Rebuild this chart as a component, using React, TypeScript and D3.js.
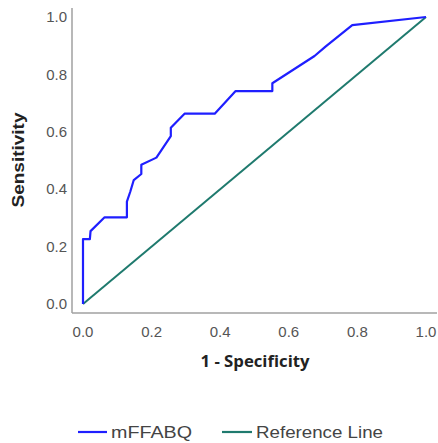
import React from 'react';
import * as d3 from 'd3';

// ROC curve points (1 - specificity, sensitivity)
const rocX = [0, 0, 0.02, 0.022, 0.063, 0.128, 0.128, 0.138, 0.148, 0.17, 0.17, 0.214, 0.256, 0.256, 0.296, 0.384, 0.445, 0.552, 0.552, 0.675, 0.707, 0.785, 1];
const rocY = [0, 0.226, 0.226, 0.254, 0.302, 0.302, 0.357, 0.392, 0.432, 0.453, 0.485, 0.51, 0.585, 0.614, 0.663, 0.663, 0.742, 0.742, 0.769, 0.864, 0.897, 0.972, 1];
const refX = [0, 1];
const refY = [0, 1];
const ticks = [0, 0.2, 0.4, 0.6, 0.8, 1.0];
const seriesNames = ['mFFABQ', 'Reference Line'];
const seriesColors = ['#1f1fff', '#1f7a6e'];

export default function App() {
  const width = 438, height = 443;
  const x = d3.scaleLinear().domain([0, 1]).range([83, 426]);
  const y = d3.scaleLinear().domain([0, 1]).range([304, 17]);

  const line = d3.line<[number, number]>()
    .x(d => x(d[0]))
    .y(d => y(d[1]));

  const roc = line(rocX.map((v, i) => [v, rocY[i]] as [number, number])) || '';
  const ref = line(refX.map((v, i) => [v, refY[i]] as [number, number])) || '';

  const tickFont = '"Liberation Sans", Arial, sans-serif';

  return (
    <svg width={width} height={height} style={{ position: 'absolute', left: 0, top: 0, background: '#fff' }}>
      {/* axes */}
      <line x1={72} x2={72} y1={8} y2={313} stroke="#a0a0a0" strokeWidth={1.5} />
      <line x1={72} x2={437} y1={313} y2={313} stroke="#a0a0a0" strokeWidth={1.5} />

      {ticks.map(t => (
        <text key={'y' + t} x={67} y={y(t)} dy="0.35em" textAnchor="end"
          fontFamily={tickFont} fontSize={15} fill="#555">{t.toFixed(1)}</text>
      ))}
      {ticks.map(t => (
        <text key={'x' + t} x={x(t)} y={332} dy="0.35em" textAnchor="middle"
          fontFamily={tickFont} fontSize={15} fill="#555">{t.toFixed(1)}</text>
      ))}

      <text x={255} y={361} dy="0.35em" textAnchor="middle" fontFamily='"Open Sans", sans-serif'
        fontWeight="bold" fontSize={16} fill="#222" textLength={109} lengthAdjust="spacingAndGlyphs">1 - Specificity</text>
      <text transform="translate(18,160) rotate(-90)" dy="0.35em" textAnchor="middle"
        fontFamily={tickFont} fontWeight="bold" fontSize={16} fill="#222"
        textLength={95} lengthAdjust="spacingAndGlyphs">Sensitivity</text>

      {/* lines */}
      <path d={ref} fill="none" stroke={seriesColors[1]} strokeWidth={2} />
      <path d={roc} fill="none" stroke={seriesColors[0]} strokeWidth={2.2} strokeLinejoin="round" />

      {/* legend */}
      <line x1={78} x2={107} y1={432} y2={432} stroke={seriesColors[0]} strokeWidth={2.2} />
      <text x={111} y={432} dy="0.35em" fontFamily={tickFont} fontSize={17} fill="#444"
        textLength={81} lengthAdjust="spacingAndGlyphs">{seriesNames[0]}</text>
      <line x1={222} x2={252} y1={432} y2={432} stroke={seriesColors[1]} strokeWidth={2.2} />
      <text x={256} y={432} dy="0.35em" fontFamily={tickFont} fontSize={17} fill="#444"
        textLength={127} lengthAdjust="spacingAndGlyphs">{seriesNames[1]}</text>
    </svg>
  );
}
